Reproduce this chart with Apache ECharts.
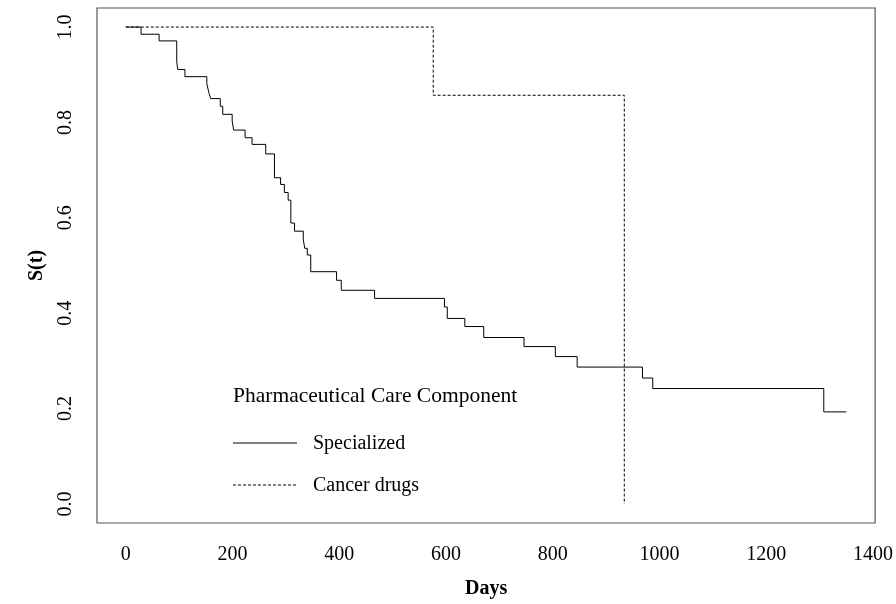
<!DOCTYPE html>
<html>
<head>
<meta charset="utf-8">
<script src="https://cdn.jsdelivr.net/npm/echarts@6/dist/echarts.min.js"></script>
<style>html,body{margin:0;padding:0;background:#fff}#c{width:896px;height:604px}</style>
</head>
<body>
<div id="c"></div>
<script>
// Specialized: event times (days) and survival after each event
var specTimes = [0, 28.5, 62.4, 95.4, 97.3, 110.8, 151.8, 155.5, 158.9, 177, 181.6, 199.3, 202.1, 223.5, 236.6, 262.1, 278.5, 290, 297.1, 304.2, 309.2, 316.1, 332.5, 335.3, 340, 346.5, 394.9, 403.7, 466.1, 597, 602.3, 635.2, 670.6, 746.1, 804.8, 845.7, 968.1, 987.3, 1307.8, 1350];
var specSurv  = [1.0, 0.985, 0.971, 0.928, 0.911, 0.896, 0.881, 0.863, 0.850, 0.834, 0.817, 0.803, 0.784, 0.768, 0.754, 0.734, 0.684, 0.670, 0.653, 0.637, 0.589, 0.572, 0.554, 0.536, 0.522, 0.487, 0.469, 0.448, 0.431, 0.413, 0.389, 0.372, 0.349, 0.330, 0.309, 0.287, 0.264, 0.242, 0.193, 0.193];
// Cancer drugs
var cancerTimes = [0, 576, 934];
var cancerSurv  = [1.0, 0.857, 0.0];
// Tick labels
var xTicks = [0, 200, 400, 600, 800, 1000, 1200, 1400];
var yTicks = [0.0, 0.2, 0.4, 0.6, 0.8, 1.0];
var legendTitle = 'Pharmaceutical Care Component';
var seriesNames = ['Specialized', 'Cancer drugs'];

function zip(a, b) { return a.map(function (v, i) { return [v, b[i]]; }); }

var FONT = '"Liberation Serif", "DejaVu Serif", serif';
var chart = echarts.init(document.getElementById('c'), null, {renderer: 'canvas'});
chart.setOption({
  animation: false,
  backgroundColor: '#fff',
  grid: {left: 97, right: 16, top: 8, bottom: 77, show: true, borderColor: '#555', borderWidth: 1.2, backgroundColor: 'transparent'},
  xAxis: {
    type: 'value', min: -54, max: 1404,
    name: 'Days', nameLocation: 'middle', nameGap: 56,
    nameTextStyle: {fontFamily: FONT, fontSize: 20, fontWeight: 'bold', color: '#000'},
    axisLine: {show: false}, axisTick: {show: false}, splitLine: {show: false},
    axisLabel: {customValues: xTicks, margin: 22, fontFamily: FONT, fontSize: 20, color: '#000',
      formatter: function (v) { return String(Math.round(v)); }}
  },
  yAxis: {
    type: 'value', min: -0.04, max: 1.04,
    name: 'S(t)', nameLocation: 'middle', nameGap: 50, nameRotate: 90,
    nameTextStyle: {fontFamily: FONT, fontSize: 20, fontWeight: 'bold', color: '#000'},
    axisLine: {show: false}, axisTick: {show: false}, splitLine: {show: false},
    axisLabel: {customValues: yTicks, rotate: 90, margin: 21, fontFamily: FONT, fontSize: 20, color: '#000',
      formatter: function (v) { return Number(v).toFixed(1); }}
  },
  series: [
    {name: seriesNames[0], type: 'line', step: 'end', data: zip(specTimes, specSurv), showSymbol: false, symbol: 'none',
      lineStyle: {color: '#000', width: 1}},
    {name: seriesNames[1], type: 'line', step: 'end', data: zip(cancerTimes, cancerSurv), showSymbol: false, symbol: 'none',
      lineStyle: {color: '#000', width: 1, type: [3, 2]}}
  ],
  graphic: [
    {type: 'text', left: 233, top: 385, style: {text: legendTitle, fontFamily: FONT, fontSize: 21.5, fill: '#000'}},
    {type: 'line', shape: {x1: 233, y1: 443, x2: 297, y2: 443}, style: {stroke: '#000', lineWidth: 1}},
    {type: 'text', left: 313, top: 434, style: {text: seriesNames[0], fontFamily: FONT, fontSize: 20, fill: '#000'}},
    {type: 'line', shape: {x1: 233, y1: 485, x2: 297, y2: 485}, style: {stroke: '#000', lineWidth: 1, lineDash: [3, 2]}},
    {type: 'text', left: 313, top: 476, style: {text: seriesNames[1], fontFamily: FONT, fontSize: 20, fill: '#000'}}
  ]
});
</script>
</body>
</html>
